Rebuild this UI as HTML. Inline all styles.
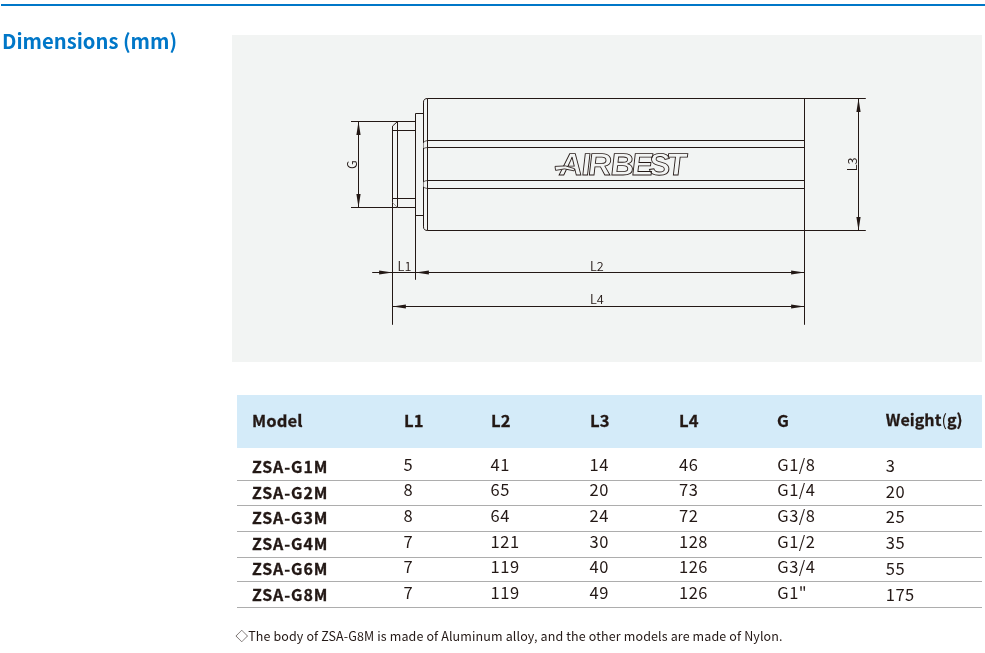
<!DOCTYPE html>
<html lang="en">
<head>
<meta charset="utf-8">
<title>Dimensions (mm)</title>
<style>
html,body{margin:0;padding:0;background:#fff;}
body{width:985px;height:653px;position:relative;overflow:hidden;will-change:transform;font-family:"Noto Sans CJK SC","Liberation Sans",sans-serif;color:#231815;}
.topline{position:absolute;left:1px;top:4px;width:984px;height:2px;background:#0077c8;}
h1{position:absolute;left:2px;top:26px;margin:0;font-size:20.2px;line-height:30px;font-weight:700;color:#0077c8;white-space:nowrap;}
.panel{position:absolute;left:232px;top:35px;width:750px;height:327px;background:#f2f4f3;}
.panel svg{position:absolute;left:0;top:0;display:block;}
table.dim{position:absolute;left:237px;top:395px;width:745px;border-collapse:separate;border-spacing:0;table-layout:fixed;}
table.dim th,table.dim td{position:relative;padding:0;margin:0;box-sizing:border-box;font-weight:400;text-align:left;}
table.dim th{height:53px;background:#d4ebf9;}
table.dim td{border-bottom:1px solid #adadad;}
table.dim span{position:absolute;white-space:nowrap;font-size:15px;line-height:20px;}
table.dim span.n{position:static;font-size:inherit;}
table.dim .b{font-weight:700;-webkit-text-stroke:0.3px #231815;}
table.dim .b .n{font-weight:400;-webkit-text-stroke:0;}
table.dim .h{font-size:16px;letter-spacing:0.1px;transform:scaleX(1.035);transform-origin:0 50%;}
table.dim .w{font-size:16px;letter-spacing:0.05px;}
table.dim .d{font-size:16.5px;letter-spacing:0.5px;font-weight:400;}
table.dim .m{font-size:15.5px;letter-spacing:0.9px;transform:scaleX(1.03);transform-origin:0 50%;}
.note{position:absolute;left:235.5px;top:626.2px;font-size:12.5px;line-height:20px;white-space:nowrap;letter-spacing:0.125px;}
</style>
</head>
<body>
<div class="topline"></div>
<h1>Dimensions (mm)</h1>
<div class="panel">
<svg width="750" height="327" viewBox="232 35 750 327" fill="none" stroke="#231815" stroke-width="1" stroke-linecap="butt" font-family="&quot;Noto Sans CJK SC&quot;,&quot;Liberation Sans&quot;,sans-serif">
<path d="M865.8 98.5H427.7Q423.5 98.5 423.5 102.1V226.9Q423.5 230.5 427.7 230.5H865.8"/>
<path d="M427.5 98.5V230.5"/>
<path d="M804.5 98.5V324.8"/>
<path d="M804.5 140.5H427.5"/>
<path d="M804.5 147.5H427.5"/>
<path d="M804.5 180.5H427.5"/>
<path d="M804.5 188.5H427.5"/>
<path d="M423.5 142.7V148.1M423.5 181.7V186.9" stroke="#f2f4f3" stroke-width="1.3" opacity="0.5"/>
<path d="M427.5 140.5Q424.1 140.9 423.5 142.7M427.5 147.5Q424.5 147.7 423.5 148.7" stroke-width="0.7"/>
<path d="M427.5 180.5Q424.5 180.7 423.5 181.9M427.5 188.5Q424.1 188.1 423.5 186.9" stroke-width="0.7"/>
<path d="M423.5 113.5H415.5V279.8M415.5 215.5H423.5"/>
<path d="M415.5 121.5H351M415.5 207.5H351"/>
<path d="M392.5 126.1V324.8M397.5 121.5V207.5M392.5 130.5H415.5M392.5 198.5H415.5"/>
<path d="M392.5 126.1L397.5 121.5"/>
<path d="M392.5 202.6L397.5 207.5" stroke="#8a8583" stroke-width="0.8"/>
<path d="M358.5 121.5V207.5"/>
<path d="M358.50 121.50L360.60 134.90L356.40 134.90Z" fill="#231815" stroke="none"/>
<path d="M358.50 207.50L356.40 194.10L360.60 194.10Z" fill="#231815" stroke="none"/>
<path d="M858.5 98.5V230.5"/>
<path d="M858.50 98.50L860.60 111.90L856.40 111.90Z" fill="#231815" stroke="none"/>
<path d="M858.50 230.50L856.40 217.10L860.60 217.10Z" fill="#231815" stroke="none"/>
<path d="M372.2 272.5H804.5"/>
<path d="M392.50 272.50L379.10 274.60L379.10 270.40Z" fill="#231815" stroke="none"/>
<path d="M415.50 272.50L428.90 270.40L428.90 274.60Z" fill="#231815" stroke="none"/>
<path d="M804.50 272.50L791.10 274.60L791.10 270.40Z" fill="#231815" stroke="none"/>
<path d="M392.5 306.5H804.5"/>
<path d="M392.50 306.50L405.90 304.40L405.90 308.60Z" fill="#231815" stroke="none"/>
<path d="M804.50 306.50L791.10 308.60L791.10 304.40Z" fill="#231815" stroke="none"/>
<g fill="#231815" stroke="none" font-size="12.7" font-weight="350">
<text x="397.6" y="270.6">L1</text>
<text x="590" y="270.6">L2</text>
<text x="590" y="304.1">L4</text>
<text transform="translate(356.8 169.1) rotate(-90)">G</text>
<text transform="translate(857 171.2) rotate(-90)">L3</text>
</g>
<text transform="translate(559.76 175.3) skewX(5) scale(1.05 1)" x="0 21.47 27.61 49.04 68.94 85.51 102.7" font-family="&quot;Liberation Sans&quot;,sans-serif" font-style="italic" font-weight="700" font-size="31" stroke-width="0.85">AIRBEST</text>
<path d="M555 166.4L565.5 165.9L574.6 168.7L574.2 170.9L564.5 168.9L555.6 170.4Z" fill="#f2f4f3" stroke-width="0.85"/>
</svg>
</div>
<table class="dim">
<colgroup><col style="width:153px"><col style="width:87px"><col style="width:99px"><col style="width:89px"><col style="width:98px"><col style="width:109px"><col style="width:110px"></colgroup>
<thead>
<tr>
<th><span class="b h" style="left:14.9px;top:15.4px">Model</span></th>
<th><span class="b h" style="left:13.6px;top:15.4px">L1</span></th>
<th><span class="b h" style="left:13.6px;top:15.4px">L2</span></th>
<th><span class="b h" style="left:13.6px;top:15.4px">L3</span></th>
<th><span class="b h" style="left:14.0px;top:15.4px">L4</span></th>
<th><span class="b h" style="left:14.3px;top:15.4px">G</span></th>
<th><span class="b w" style="left:13.8px;top:13.6px">Weight<span class="n">(</span>g)</span></th>
</tr>
</thead>
<tbody>
<tr style="height:33px">
<td><span class="b m" style="left:14.7px;top:8.3px">ZSA-G1M</span></td>
<td><span class="d" style="left:13.6px;top:5.7px">5</span></td>
<td><span class="d" style="left:13.6px;top:5.7px">41</span></td>
<td><span class="d" style="left:13.6px;top:5.7px">14</span></td>
<td><span class="d" style="left:14.0px;top:5.7px">46</span></td>
<td><span class="d" style="left:14.3px;top:5.7px">G1/8</span></td>
<td><span class="d" style="left:13.8px;top:7.2px">3</span></td>
</tr>
<tr style="height:25px">
<td><span class="b m" style="left:14.7px;top:0.7px">ZSA-G2M</span></td>
<td><span class="d" style="left:13.6px;top:-1.9px">8</span></td>
<td><span class="d" style="left:13.6px;top:-1.9px">65</span></td>
<td><span class="d" style="left:13.6px;top:-1.9px">20</span></td>
<td><span class="d" style="left:14.0px;top:-1.9px">73</span></td>
<td><span class="d" style="left:14.3px;top:-1.9px">G1/4</span></td>
<td><span class="d" style="left:13.8px;top:-0.4px">20</span></td>
</tr>
<tr style="height:26px">
<td><span class="b m" style="left:14.7px;top:0.8px">ZSA-G3M</span></td>
<td><span class="d" style="left:13.6px;top:-1.2px">8</span></td>
<td><span class="d" style="left:13.6px;top:-1.2px">64</span></td>
<td><span class="d" style="left:13.6px;top:-1.2px">24</span></td>
<td><span class="d" style="left:14.0px;top:-1.2px">72</span></td>
<td><span class="d" style="left:14.3px;top:-1.2px">G3/8</span></td>
<td><span class="d" style="left:13.8px;top:0.1px">25</span></td>
</tr>
<tr style="height:26px">
<td><span class="b m" style="left:14.7px;top:0.9px">ZSA-G4M</span></td>
<td><span class="d" style="left:13.6px;top:-1.5px">7</span></td>
<td><span class="d" style="left:13.6px;top:-1.5px">121</span></td>
<td><span class="d" style="left:13.6px;top:-1.5px">30</span></td>
<td><span class="d" style="left:14.0px;top:-1.5px">128</span></td>
<td><span class="d" style="left:14.3px;top:-1.5px">G1/2</span></td>
<td><span class="d" style="left:13.8px;top:0.0px">35</span></td>
</tr>
<tr style="height:24px">
<td><span class="b m" style="left:14.7px;top:0.3px">ZSA-G6M</span></td>
<td><span class="d" style="left:13.6px;top:-1.7px">7</span></td>
<td><span class="d" style="left:13.6px;top:-1.7px">119</span></td>
<td><span class="d" style="left:13.6px;top:-1.7px">40</span></td>
<td><span class="d" style="left:14.0px;top:-1.7px">126</span></td>
<td><span class="d" style="left:14.3px;top:-1.7px">G3/4</span></td>
<td><span class="d" style="left:13.8px;top:0.0px">55</span></td>
</tr>
<tr style="height:26px">
<td><span class="b m" style="left:14.7px;top:2.2px">ZSA-G8M</span></td>
<td><span class="d" style="left:13.6px;top:-0.1px">7</span></td>
<td><span class="d" style="left:13.6px;top:-0.1px">119</span></td>
<td><span class="d" style="left:13.6px;top:-0.1px">49</span></td>
<td><span class="d" style="left:14.0px;top:-0.1px">126</span></td>
<td><span class="d" style="left:14.3px;top:-0.1px">G1"</span></td>
<td><span class="d" style="left:13.8px;top:1.5px">175</span></td>
</tr>
</tbody>
</table>
<div class="note">◇The body of ZSA-G8M is made of Aluminum alloy, and the other models are made of Nylon.</div>
</body>
</html>
